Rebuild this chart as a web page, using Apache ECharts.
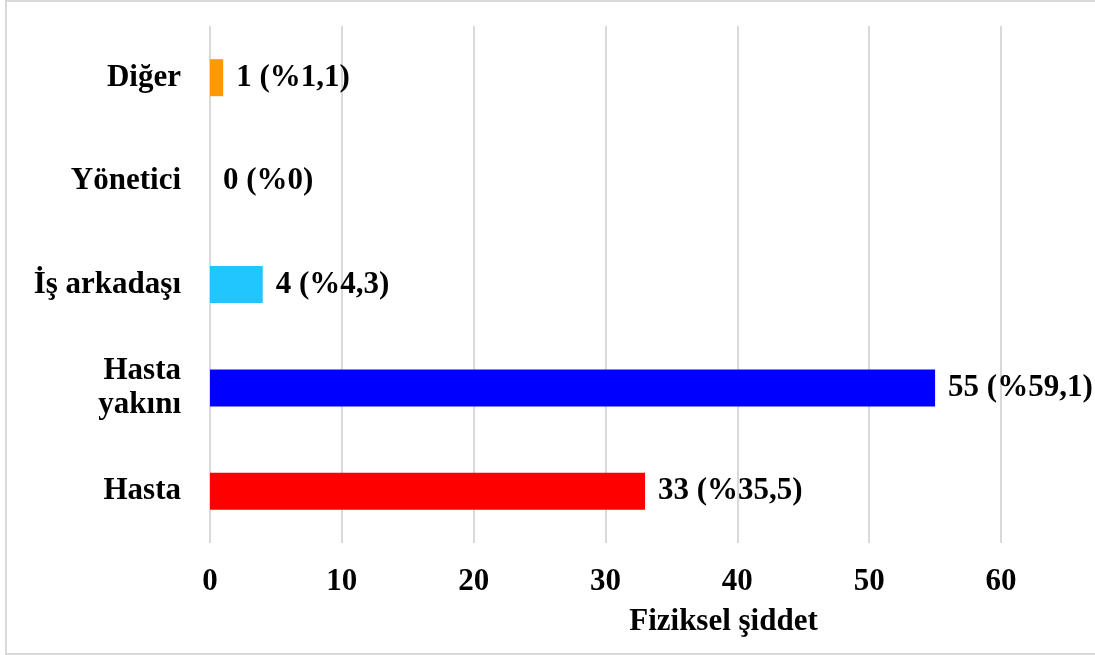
<!DOCTYPE html>
<html>
<head>
<meta charset="utf-8">
<style>
  html, body { margin: 0; padding: 0; background: #fff; }
  #chart { width: 1095px; height: 655px; }
</style>
<script src="https://cdn.jsdelivr.net/npm/echarts@6/dist/echarts.min.js"></script>
</head>
<body>
<div id="chart"></div>
<script>
// Physical violence by source (bottom to top on the category axis)
const categories = ['Hasta', 'Hasta\nyakını', 'İş arkadaşı', 'Yönetici', 'Diğer'];
const counts = [33, 55, 4, 0, 1];
const percents = [35.5, 59.1, 4.3, 0, 1.1];
const barColors = ['#FF0000', '#0000FF', '#21C5FF', '#7F7F7F', '#FF9900'];
const xTicks = [0, 10, 20, 30, 40, 50, 60];

const FONT = '"Liberation Serif", "Times New Roman", serif';
const FS = 31;

const chart = echarts.init(document.getElementById('chart'), null, { renderer: 'canvas' });

chart.setOption({
  backgroundColor: '#ffffff',
  animation: false,
  grid: { left: 210, right: 94, top: 26, bottom: 112, containLabel: false },
  graphic: [{
    type: 'rect',
    shape: { x: 6, y: 1, width: 1092, height: 653 },
    style: { fill: 'none', stroke: '#d9d9d9', lineWidth: 2 },
    silent: true,
    z: -1
  }],
  xAxis: {
    type: 'value',
    min: xTicks[0],
    max: xTicks[xTicks.length - 1],
    interval: 10,
    name: 'Fiziksel şiddet',
    nameLocation: 'middle',
    nameGap: 63,
    nameTextStyle: {
      fontFamily: FONT, fontWeight: 'bold', fontSize: FS, color: '#000',
      padding: [0, 0, 0, 236]
    },
    axisLine: { show: false },
    axisTick: { show: false },
    axisLabel: {
      margin: 23, fontFamily: FONT, fontWeight: 'bold', fontSize: FS, color: '#000'
    },
    splitLine: { show: true, lineStyle: { color: '#d9d9d9', width: 2 } }
  },
  yAxis: {
    type: 'category',
    data: categories,
    axisLine: { show: false },
    axisTick: { show: false },
    axisLabel: {
      margin: 29, fontFamily: FONT, fontWeight: 'bold', fontSize: FS, color: '#000',
      align: 'right', lineHeight: 34
    }
  },
  series: [{
    type: 'bar',
    barWidth: 37,
    data: counts.map((v, i) => ({ value: v, itemStyle: { color: barColors[i] } })),
    label: {
      show: true,
      position: 'right',
      distance: 13,
      fontFamily: FONT, fontWeight: 'bold', fontSize: FS, color: '#000',
      formatter: (p) => counts[p.dataIndex] + ' (%' + String(percents[p.dataIndex]).replace('.', ',') + ')'
    }
  }]
});
</script>
</body>
</html>
